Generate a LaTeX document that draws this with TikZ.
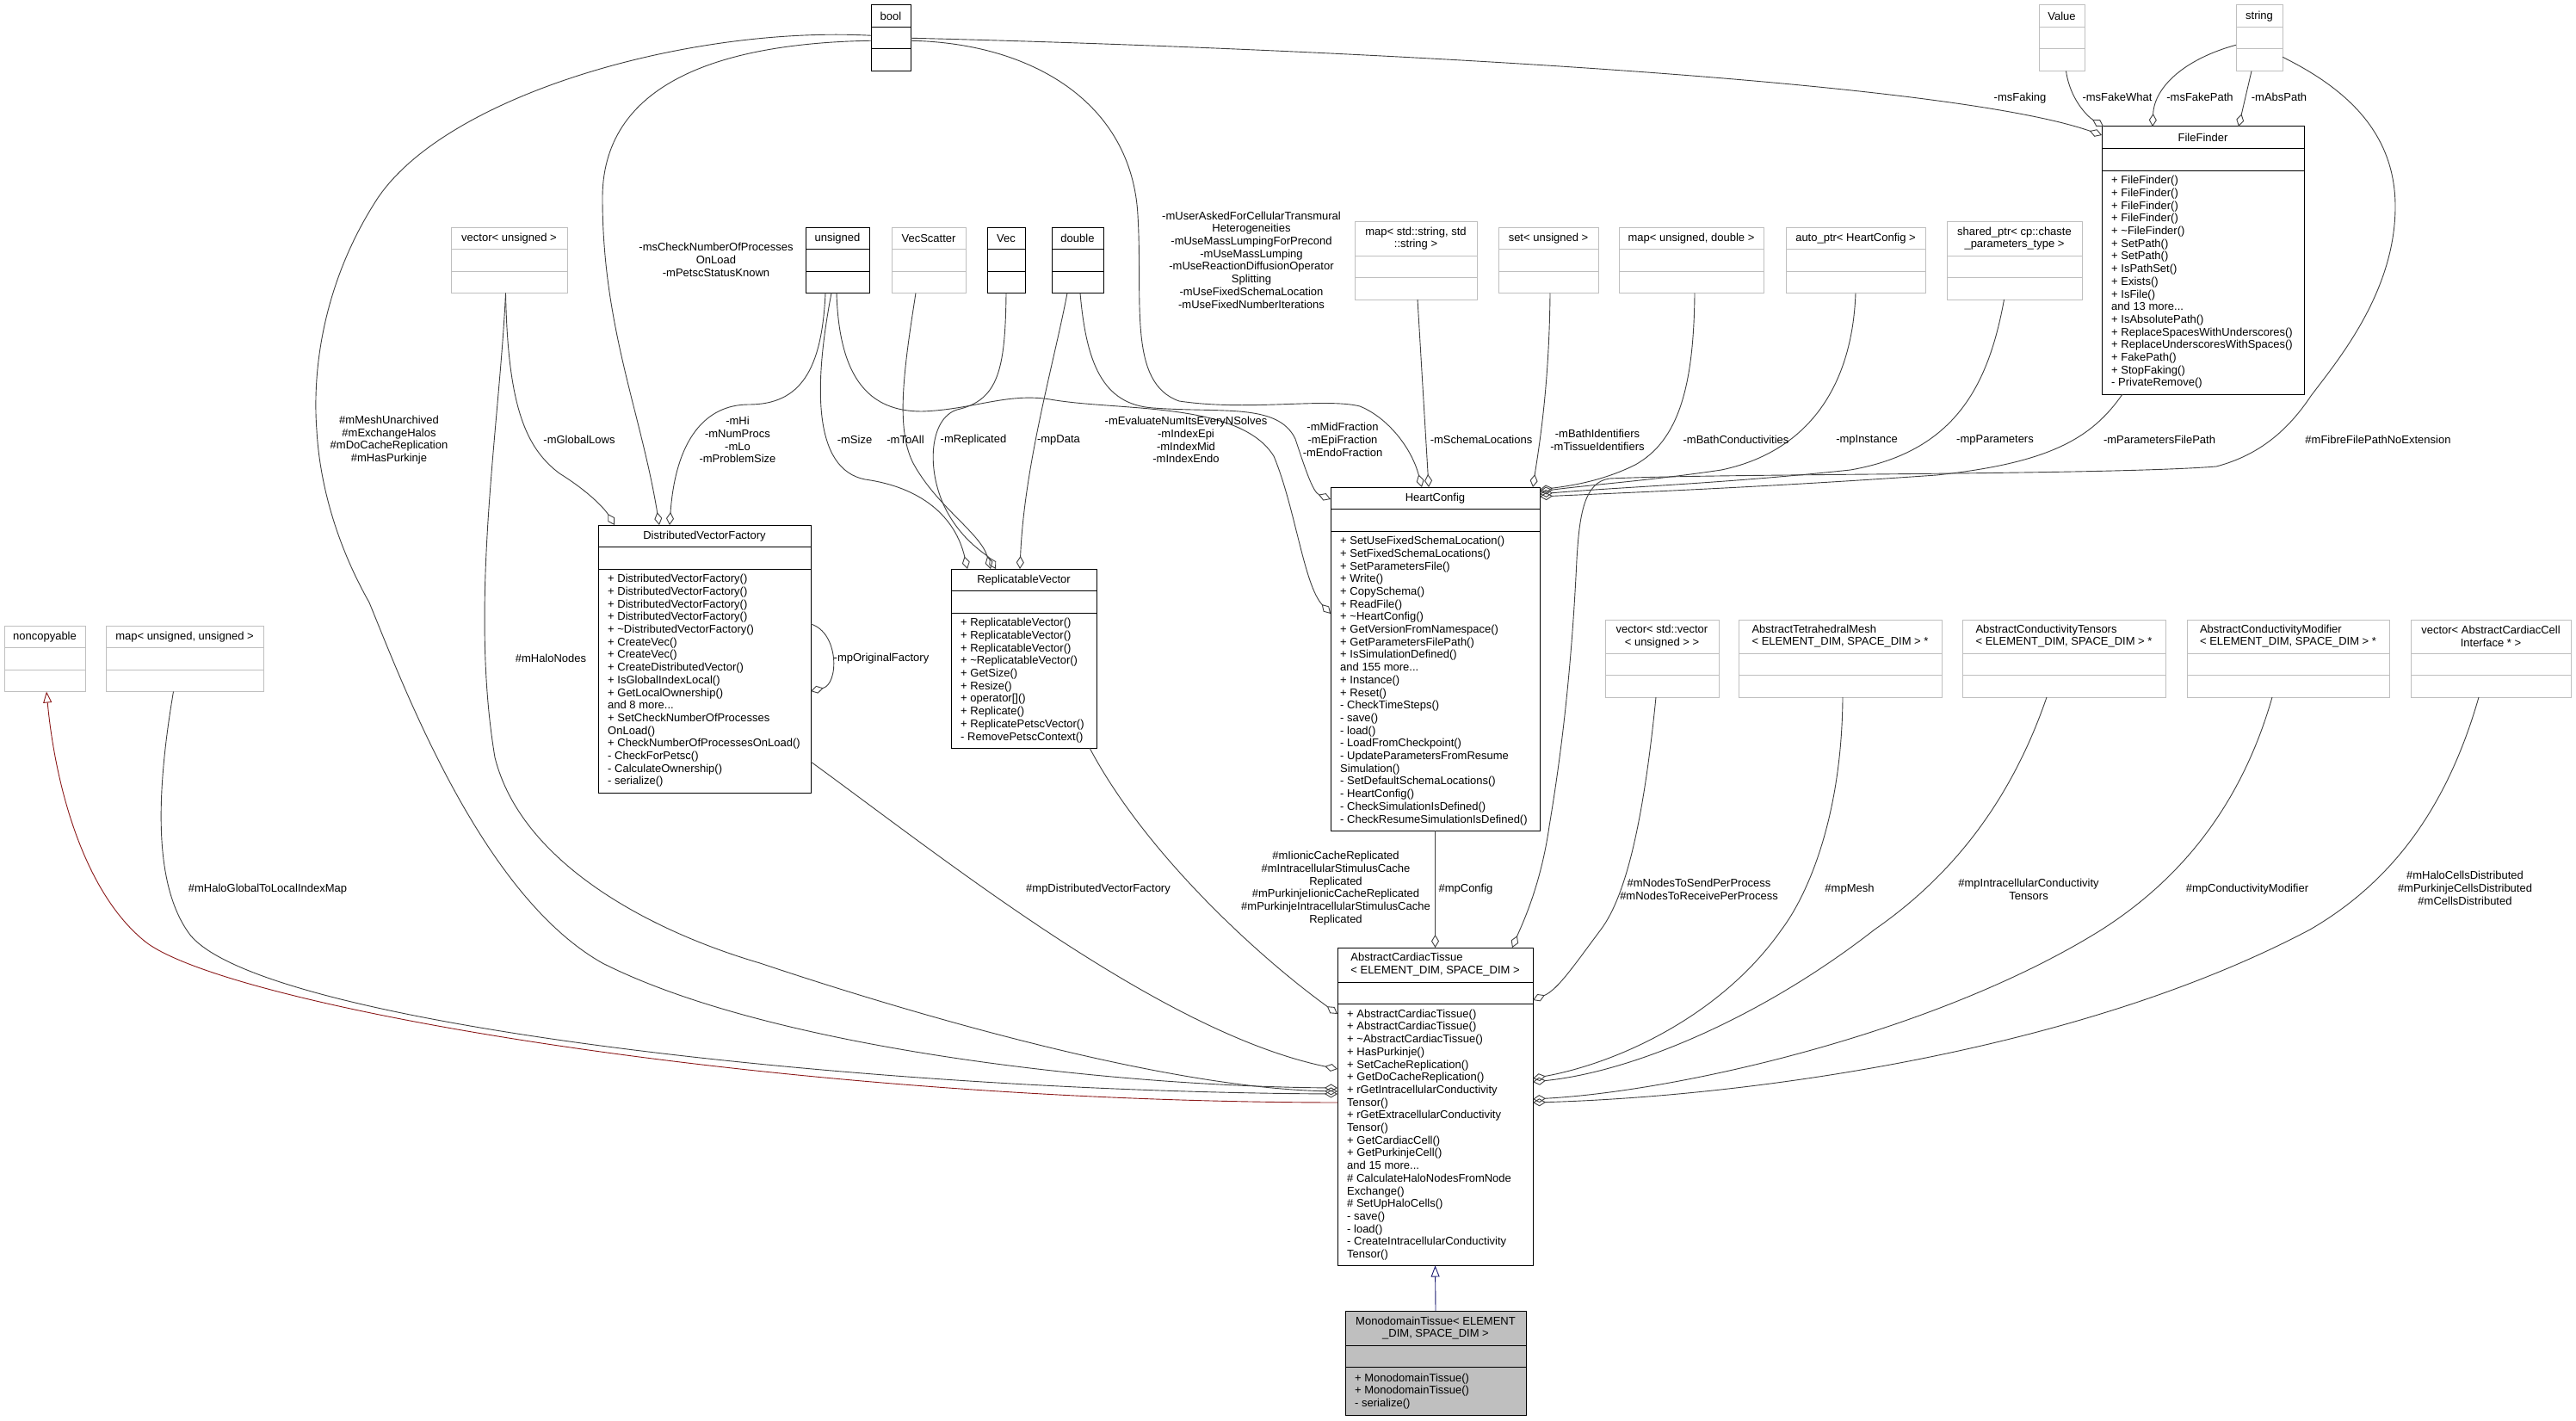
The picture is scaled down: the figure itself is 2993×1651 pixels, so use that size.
\documentclass[tikz,border=0pt]{standalone}
\usepackage{fontspec}
\setmainfont{Liberation Sans}
\usetikzlibrary{arrows.meta,calc}
\definecolor{doxblue}{HTML}{191970}
\definecolor{doxred}{HTML}{8B1A1A}
\newcommand{\dxfont}{\fontsize{13}{14.7}\selectfont}
\newcommand{\lefthead}[2]{\begin{tabular}{@{}l@{}}#1\\#2\end{tabular}}
% style, name, top left, width, header height, method height, header, methods
\newcommand{\umlclass}[8]{%
  \node[#1, anchor=north west, minimum width=#4, minimum height=#5+25.5+#6] (#2) at #3 {};
  \draw[#1 rule] ([yshift=-#5]#2.north west) -- ([yshift=-#5]#2.north east);
  \draw[#1 rule] ([yshift=-#5-25.5]#2.north west) -- ([yshift=-#5-25.5]#2.north east);
  \node[head] at ([yshift=-#5/2]#2.north) {#7};
  \node[meth] at ([xshift=11, yshift=-#5-25.5-#6/2]#2.north west) {#8};
}

\begin{document}
\begin{tikzpicture}[x=1pt, y=-1pt,
  cls/.style={draw=black, line width=1pt, fill=white, inner sep=0pt, outer sep=0pt},
  cls rule/.style={draw=black, line width=1pt},
  ext/.style={draw=black!25, line width=1pt, fill=white, inner sep=0pt, outer sep=0pt},
  ext rule/.style={draw=black!25, line width=1pt},
  self/.style={draw=black, line width=1pt, fill=black!25, inner sep=0pt, outer sep=0pt},
  self rule/.style={draw=black, line width=1pt},
  head/.style={font=\dxfont, align=center, inner sep=0pt},
  meth/.style={font=\dxfont, align=left, anchor=west, inner sep=0pt},
  lbl/.style={font=\dxfont, align=center, inner sep=0pt},
  use/.style={draw=black!75, line width=0.9pt, -{Diamond[open, length=15pt, width=9pt]}},
  pubinh/.style={draw=doxblue, line width=0.9pt, -{Triangle[open, length=13pt, width=10pt]}},
  privinh/.style={draw=doxred, line width=0.9pt, -{Triangle[open, length=13pt, width=10pt]}}]
\fill[white] (0,0) rectangle (2993,1651);
\useasboundingbox (0,0) rectangle (2993,1651);

% top row
\umlclass{cls}{bool}{(1012,6)}{46}{25.5}{25.5}{bool}{}
\umlclass{ext}{value}{(2369,6)}{53}{25.5}{25.5}{Value}{}
\umlclass{ext}{str}{(2598,6)}{54}{25.5}{25.5}{string}{}
\umlclass{cls}{ff}{(2442,147)}{235}{25.5}{260}{FileFinder}{%
+ FileFinder()\\+ FileFinder()\\+ FileFinder()\\+ FileFinder()\\
+ \textasciitilde{}FileFinder()\\+ SetPath()\\+ SetPath()\\+ IsPathSet()\\
+ Exists()\\+ IsFile()\\and 13 more...\\+ IsAbsolutePath()\\
+ ReplaceSpacesWithUnderscores()\\+ ReplaceUnderscoresWithSpaces()\\
+ FakePath()\\+ StopFaking()\\- PrivateRemove()}

% second row
\umlclass{ext}{vecu}{(524,264)}{135}{25.5}{25.5}{vector< unsigned >}{}
\umlclass{cls}{uns}{(936,264)}{74}{25.5}{25.5}{unsigned}{}
\umlclass{ext}{vsc}{(1036,264)}{86}{25.5}{25.5}{VecScatter}{}
\umlclass{cls}{vec}{(1147,264)}{44}{25.5}{25.5}{Vec}{}
\umlclass{cls}{dbl}{(1222,264)}{60}{25.5}{25.5}{double}{}
\umlclass{ext}{mapss}{(1574,257)}{142}{40}{25.5}{map< std::string, std\\::string >}{}
\umlclass{ext}{setu}{(1741,264)}{116}{25.5}{25.5}{set< unsigned >}{}
\umlclass{ext}{mapud}{(1881,264)}{168}{25.5}{25.5}{map< unsigned, double >}{}
\umlclass{ext}{autop}{(2075,264)}{162}{25.5}{25.5}{auto\_ptr< HeartConfig >}{}
\umlclass{ext}{sharedp}{(2262,257)}{157}{40}{25.5}{shared\_ptr< cp::chaste\\\_parameters\_type >}{}

% middle classes
\umlclass{cls}{hc}{(1546,566)}{243}{25.5}{348}{HeartConfig}{%
+ SetUseFixedSchemaLocation()\\+ SetFixedSchemaLocations()\\+ SetParametersFile()\\
+ Write()\\+ CopySchema()\\+ ReadFile()\\+ \textasciitilde{}HeartConfig()\\
+ GetVersionFromNamespace()\\+ GetParametersFilePath()\\+ IsSimulationDefined()\\
and 155 more...\\+ Instance()\\+ Reset()\\- CheckTimeSteps()\\- save()\\- load()\\
- LoadFromCheckpoint()\\- UpdateParametersFromResume\\Simulation()\\
- SetDefaultSchemaLocations()\\- HeartConfig()\\- CheckSimulationIsDefined()\\
- CheckResumeSimulationIsDefined()}
\umlclass{cls}{dvf}{(695,610)}{247}{25.5}{260}{DistributedVectorFactory}{%
+ DistributedVectorFactory()\\+ DistributedVectorFactory()\\
+ DistributedVectorFactory()\\+ DistributedVectorFactory()\\
+ \textasciitilde{}DistributedVectorFactory()\\+ CreateVec()\\+ CreateVec()\\
+ CreateDistributedVector()\\+ IsGlobalIndexLocal()\\+ GetLocalOwnership()\\
and 8 more...\\+ SetCheckNumberOfProcesses\\OnLoad()\\
+ CheckNumberOfProcessesOnLoad()\\- CheckForPetsc()\\- CalculateOwnership()\\
- serialize()}
\umlclass{cls}{rv}{(1105,661)}{169}{25.5}{157}{ReplicatableVector}{%
+ ReplicatableVector()\\+ ReplicatableVector()\\+ ReplicatableVector()\\
+ \textasciitilde{}ReplicatableVector()\\+ GetSize()\\+ Resize()\\+ operator[]()\\
+ Replicate()\\+ ReplicatePetscVector()\\- RemovePetscContext()}

% third row
\umlclass{ext}{nonc}{(5,727)}{94}{25.5}{25.5}{noncopyable}{}
\umlclass{ext}{mapuu}{(123,727)}{183}{25.5}{25.5}{map< unsigned, unsigned >}{}
\umlclass{ext}{vecvec}{(1865,720)}{132}{39}{25.5}{vector< std::vector\\< unsigned > >}{}
\umlclass{ext}{mesh}{(2020,720)}{236}{39}{25.5}{\lefthead{AbstractTetrahedralMesh}{< ELEMENT\_DIM, SPACE\_DIM > *}}{}
\umlclass{ext}{tens}{(2280,720)}{236}{39}{25.5}{\lefthead{AbstractConductivityTensors}{< ELEMENT\_DIM, SPACE\_DIM > *}}{}
\umlclass{ext}{modi}{(2541,720)}{235}{39}{25.5}{\lefthead{AbstractConductivityModifier}{< ELEMENT\_DIM, SPACE\_DIM > *}}{}
\umlclass{ext}{cells}{(2801,720)}{186}{39}{25.5}{vector< AbstractCardiacCell\\Interface * >}{}

% tissue classes
\umlclass{cls}{act}{(1554,1101)}{227}{40}{304}{\lefthead{AbstractCardiacTissue}{< ELEMENT\_DIM, SPACE\_DIM >}}{%
+ AbstractCardiacTissue()\\+ AbstractCardiacTissue()\\
+ \textasciitilde{}AbstractCardiacTissue()\\+ HasPurkinje()\\+ SetCacheReplication()\\
+ GetDoCacheReplication()\\+ rGetIntracellularConductivity\\Tensor()\\
+ rGetExtracellularConductivity\\Tensor()\\+ GetCardiacCell()\\+ GetPurkinjeCell()\\
and 15 more...\\\# CalculateHaloNodesFromNode\\Exchange()\\\# SetUpHaloCells()\\
- save()\\- load()\\- CreateIntracellularConductivity\\Tensor()}
\umlclass{self}{mono}{(1563,1523)}{210}{40}{56}{MonodomainTissue< ELEMENT\\\_DIM, SPACE\_DIM >}{%
+ MonodomainTissue()\\+ MonodomainTissue()\\- serialize()}

% FileFinder members
\draw[use] (bool.east) .. controls (1500,55) and (2250,90) .. ([yshift=-10]ff.north west);
\draw[use] ([xshift=5]value.south) .. controls (2405,115) and (2425,135) .. ([xshift=2]ff.north west);
\draw[use] ([yshift=-8]str.west) .. controls (2540,68) and (2503,100) .. ([xshift=59]ff.north west);
\draw[use] ([xshift=-9]str.south) -- ([xshift=159]ff.north west);

% HeartConfig members
\draw[use] ([xshift=24]ff.south west) .. controls (2430,510) and (2380,538) .. (2250,552)
  .. controls (2050,566) and (1900,572) .. ([yshift=-11]hc.north east);
\draw[use] ([xshift=-12]sharedp.south) .. controls (2310,450) and (2270,525) .. (2150,546)
  .. controls (2000,562) and (1880,566) .. ([yshift=-8]hc.north east);
\draw[use] (autop.south) .. controls (2152,450) and (2100,525) .. (2000,546)
  .. controls (1920,558) and (1850,563) .. ([yshift=-5]hc.north east);
\draw[use] ([xshift=4]mapud.south) .. controls (1968,450) and (1950,512) .. (1900,540)
  .. controls (1860,560) and (1820,565) .. ([yshift=-3]hc.north east);
\draw[use] ([xshift=2]setu.south) .. controls (1800,450) and (1788,520) .. ([xshift=-8]hc.north east);
\draw[use] ([xshift=2]mapss.south) -- ([xshift=114]hc.north west);
\draw[use] ([yshift=-3]bool.east) .. controls (1200,50) and (1315,120) .. (1322,250)
  .. controls (1328,350) and (1310,445) .. (1370,466)
  .. controls (1450,478) and (1540,462) .. (1580,472)
  .. controls (1612,485) and (1640,520) .. ([xshift=106]hc.north west);
\draw[use] ([xshift=3]dbl.south) .. controls (1262,420) and (1280,470) .. (1340,474)
  .. controls (1420,480) and (1485,468) .. (1505,510)
  .. controls (1515,540) and (1525,572) .. ([yshift=-14]hc.north west);
\draw[use] ([xshift=-1]uns.south) .. controls (975,440) and (1010,478) .. (1071,478)
  .. controls (1130,476) and (1170,456) .. (1220,464)
  .. controls (1300,478) and (1440,466) .. (1480,530)
  .. controls (1505,590) and (1515,680) .. ([yshift=-147]hc.north west);

% ReplicatableVector members
\draw[use] ([xshift=-7]uns.south) .. controls (945,450) and (945,545) .. (1005,557)
  .. controls (1070,566) and (1110,600) .. ([xshift=19]rv.north west);
\draw[use] ([xshift=-15]vsc.south) .. controls (1050,430) and (1040,500) .. (1062,540)
  .. controls (1090,590) and (1140,620) .. ([xshift=46]rv.north west);
\draw[use] (vec.south) .. controls (1168,430) and (1160,465) .. (1112,476)
  .. controls (1080,486) and (1076,545) .. (1098,590)
  .. controls (1118,630) and (1148,645) .. ([xshift=52]rv.north west);
\draw[use] ([xshift=-12]dbl.south) .. controls (1225,420) and (1190,540) .. ([xshift=80]rv.north west);

% DistributedVectorFactory members
\draw[use] ([xshift=-14]uns.south) .. controls (955,430) and (930,470) .. (870,470)
  .. controls (820,470) and (785,510) .. ([xshift=83]dvf.north west);
\draw[use] ([yshift=-3]bool.west) .. controls (850,50) and (700,90) .. (700,230)
  .. controls (700,380) and (745,480) .. ([xshift=71]dvf.north west);
\draw[use] ([xshift=-4]vecu.south) .. controls (590,470) and (610,520) .. (650,550)
  .. controls (690,575) and (705,595) .. ([xshift=19]dvf.north west);
\draw[use] ([yshift=-115]dvf.north east) .. controls (975,735) and (975,795) .. ([yshift=-193]dvf.north east);

% AbstractCardiacTissue members, left
\draw[use] ([yshift=3]bool.west) .. controls (800,30) and (520,110) .. (439,230)
  .. controls (380,320) and (362,420) .. (368,500)
  .. controls (372,570) and (395,640) .. (429,700)
  .. controls (470,800) and (560,1040) .. (700,1119)
  .. controls (900,1220) and (1300,1262) .. ([yshift=-163]act.north west);
\draw[use] ([xshift=-4]vecu.south) .. controls (580,500) and (545,700) .. (575,880)
  .. controls (605,1000) and (750,1080) .. (883,1119)
  .. controls (1050,1175) and (1350,1264) .. ([yshift=-167]act.north west);
\draw[use] ([xshift=-13]mapuu.south) .. controls (180,930) and (180,1030) .. (220,1085)
  .. controls (300,1190) and (1000,1268) .. ([yshift=-170]act.north west);
\draw[use] ([yshift=-275]dvf.north east) .. controls (1100,1000) and (1350,1200) .. ([yshift=-141]act.north west);
\draw[use] ([xshift=-8]rv.south east) .. controls (1330,990) and (1460,1110) .. ([yshift=-77]act.north west);
\draw[use] (hc.south) -- (act.north);
\draw[use] ([yshift=-22]str.east) .. controls (2720,100) and (2783,150) .. (2783,240)
  .. controls (2783,340) and (2715,420) .. (2685,460)
  .. controls (2655,505) and (2620,530) .. (2575,542)
  .. controls (2450,552) and (2000,550) .. (1870,556)
  .. controls (1840,560) and (1835,600) .. (1832,650)
  .. controls (1825,800) and (1810,900) .. (1800,960)
  .. controls (1790,1030) and (1768,1075) .. ([xshift=203]act.north west);

% AbstractCardiacTissue members, right
\draw[use] ([xshift=-7]vecvec.south) .. controls (1910,950) and (1890,1040) .. (1860,1080)
  .. controls (1830,1120) and (1810,1150) .. ([yshift=-61]act.north east);
\draw[use] ([xshift=3]mesh.south) .. controls (2140,950) and (2100,1040) .. (2070,1080)
  .. controls (2000,1180) and (1880,1235) .. ([yshift=-152]act.north east);
\draw[use] ([xshift=-20]tens.south) .. controls (2330,950) and (2250,1030) .. (2178,1080)
  .. controls (2050,1180) and (1900,1245) .. ([yshift=-156]act.north east);
\draw[use] ([xshift=-18.5]modi.south) .. controls (2600,950) and (2520,1030) .. (2442,1080)
  .. controls (2250,1200) and (1950,1268) .. ([yshift=-176]act.north east);
\draw[use] ([xshift=-14]cells.south) .. controls (2840,950) and (2770,1030) .. (2684,1080)
  .. controls (2400,1230) and (2000,1275) .. ([yshift=-180]act.north east);

% inheritance
\draw[privinh] ([yshift=-180]act.north west) .. controls (900,1280) and (270,1170) .. (170,1095)
  .. controls (100,1040) and (65,920) .. ([xshift=2]nonc.south);
\draw[pubinh] (mono.north) -- (act.south);

% member labels
\node[lbl] (lfaking) at (2347,114) {-msFaking};
\node[lbl] (lfakewhat) at (2460,113) {-msFakeWhat};
\node[lbl] (lfakepath) at (2556,113) {-msFakePath};
\node[lbl] (labspath) at (2648,113) {-mAbsPath};
\node[lbl] (lfibre) at (2763,511) {\#mFibreFilePathNoExtension};
\node[lbl] (lparamfile) at (2509,511) {-mParametersFilePath};
\node[lbl] (lparams) at (2318,511) {-mpParameters};
\node[lbl] (linstance) at (2169,511) {-mpInstance};
\node[lbl] (lbathcond) at (2017,511) {-mBathConductivities};
\node[lbl] (lbathid) at (1856,511) {-mBathIdentifiers\\-mTissueIdentifiers};
\node[lbl] (lschema) at (1721,511) {-mSchemaLocations};
\node[lbl] (lfraction) at (1560,511) {-mMidFraction\\-mEpiFraction\\-mEndoFraction};
\node[lbl] (lindex) at (1378,511) {-mEvaluateNumItsEveryNSolves\\-mIndexEpi\\-mIndexMid\\-mIndexEndo};
\node[lbl] (lpdata) at (1230,511) {-mpData};
\node[lbl] (lrepl) at (1131,511) {-mReplicated};
\node[lbl] (ltoall) at (1052,511) {-mToAll};
\node[lbl] (lsize) at (993,511) {-mSize};
\node[lbl] (lhi) at (857,511) {-mHi\\-mNumProcs\\-mLo\\-mProblemSize};
\node[lbl] (lglobal) at (673,511) {-mGlobalLows};
\node[lbl] (lunarchived) at (452,511) {\#mMeshUnarchived\\\#mExchangeHalos\\\#mDoCacheReplication\\\#mHasPurkinje};
\node[lbl] (lcheck) at (832,302) {-msCheckNumberOfProcesses\\OnLoad\\-mPetscStatusKnown};
\node[lbl] (luser) at (1454,302) {-mUserAskedForCellularTransmural\\Heterogeneities\\-mUseMassLumpingForPrecond\\-mUseMassLumping\\-mUseReactionDiffusionOperator\\Splitting\\-mUseFixedSchemaLocation\\-mUseFixedNumberIterations};
\node[lbl] (lorig) at (1024,765) {-mpOriginalFactory};
\node[lbl] (lhalonodes) at (640,765) {\#mHaloNodes};
\node[lbl] (lhalomap) at (311,1033) {\#mHaloGlobalToLocalIndexMap};
\node[lbl] (ldvf) at (1276,1033) {\#mpDistributedVectorFactory};
\node[lbl] (lcache) at (1552,1032) {\#mIionicCacheReplicated\\\#mIntracellularStimulusCache\hspace*{48pt}\\Replicated\\\#mPurkinjeIionicCacheReplicated\\\#mPurkinjeIntracellularStimulusCache\\Replicated};
\node[lbl] (lconfig) at (1703,1033) {\#mpConfig};
\node[lbl] (lnodes) at (1974,1033) {\#mNodesToSendPerProcess\\\#mNodesToReceivePerProcess};
\node[lbl] (lmeshp) at (2149,1033) {\#mpMesh};
\node[lbl] (ltensors) at (2357,1033) {\#mpIntracellularConductivity\\Tensors};
\node[lbl] (lmodifier) at (2611,1033) {\#mpConductivityModifier};
\node[lbl] (lcells) at (2864,1032) {\#mHaloCellsDistributed\\\#mPurkinjeCellsDistributed\\\#mCellsDistributed};
\end{tikzpicture}
\end{document}
